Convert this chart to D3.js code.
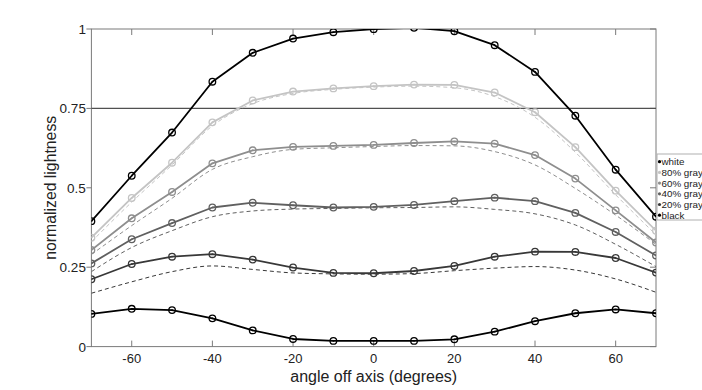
<!DOCTYPE html>
<html><head><meta charset="utf-8">
<script src="https://cdn.jsdelivr.net/npm/d3@7/dist/d3.min.js"></script>
<style>html,body{margin:0;padding:0;background:#fff;} svg{display:block;font-family:"Liberation Sans",Arial,sans-serif;}</style>
</head><body><svg id="c" width="702" height="390"></svg>
<script>
const angles = [-70,-60,-50,-40,-30,-20,-10,0,10,20,30,40,50,60,70];
const seriesNames = ["white","80% gray","60% gray","40% gray","20% gray","black"];
const white  = [0.395,0.538,0.674,0.834,0.925,0.970,0.990,0.9995,1.004,0.993,0.949,0.865,0.727,0.557,0.409];
const gray80 = [0.343,0.468,0.579,0.706,0.775,0.803,0.813,0.820,0.825,0.824,0.800,0.738,0.628,0.491,0.365];
const gray60 = [0.304,0.404,0.487,0.577,0.618,0.629,0.632,0.635,0.641,0.646,0.639,0.603,0.529,0.429,0.328];
const gray40 = [0.262,0.338,0.389,0.438,0.453,0.445,0.438,0.440,0.446,0.458,0.469,0.458,0.421,0.361,0.287];
const gray20 = [0.212,0.260,0.283,0.291,0.274,0.249,0.232,0.231,0.238,0.254,0.283,0.299,0.298,0.279,0.233];
const black  = [0.103,0.119,0.115,0.089,0.051,0.024,0.018,0.018,0.018,0.023,0.047,0.080,0.105,0.117,0.105];
const dash80 = [0.330,0.455,0.572,0.695,0.765,0.797,0.810,0.817,0.820,0.815,0.787,0.722,0.612,0.478,0.352];
const dash60 = [0.290,0.381,0.467,0.558,0.598,0.621,0.626,0.630,0.633,0.632,0.614,0.572,0.498,0.414,0.322];
const dash40 = [0.236,0.312,0.365,0.409,0.427,0.433,0.435,0.437,0.438,0.440,0.432,0.418,0.383,0.322,0.252];
const dash20 = [0.168,0.204,0.236,0.254,0.243,0.232,0.229,0.228,0.230,0.239,0.247,0.252,0.241,0.213,0.171];
const xTicks = [-60,-40,-20,0,20,40,60];
const yTicks = [0,0.25,0.5,0.75,1];
const yTickLabels = ["0","0.25","0.5","0.75","1"];
const refLine = 0.75;

const svg = d3.select("#c");
const L=91.4, R=656, T=29, B=346.6;
const x = d3.scaleLinear().domain([-70,70]).range([L,R]);
const y = d3.scaleLinear().domain([0,1]).range([B,T]);

svg.append("defs").append("clipPath").attr("id","clip")
  .append("rect").attr("x",L).attr("y",T).attr("width",R-L).attr("height",B-T);

const solid = [
  {name:"white", v:white, c:"#000000", w:1.8},
  {name:"80% gray", v:gray80, c:"#c4c4c4", w:1.8},
  {name:"60% gray", v:gray60, c:"#8e8e8e", w:1.8},
  {name:"40% gray", v:gray40, c:"#606060", w:1.8},
  {name:"20% gray", v:gray20, c:"#383838", w:1.8},
  {name:"black", v:black, c:"#000000", w:1.8}
];
const dashed = [
  {v:dash80, c:"#c4c4c4"},
  {v:dash60, c:"#8e8e8e"},
  {v:dash40, c:"#606060"},
  {v:dash20, c:"#383838"}
];

svg.append("rect").attr("x",L).attr("y",T).attr("width",R-L).attr("height",B-T)
  .attr("fill","none").attr("stroke","#7a7a7a").attr("stroke-width",1);

const ax = svg.append("g");
xTicks.forEach(t=>{
  ax.append("line").attr("x1",x(t)).attr("x2",x(t)).attr("y1",B).attr("y2",B-6).attr("stroke","#7a7a7a");
  ax.append("line").attr("x1",x(t)).attr("x2",x(t)).attr("y1",T).attr("y2",T+6).attr("stroke","#7a7a7a");
  ax.append("text").attr("x",x(t)).attr("y",B+16).attr("text-anchor","middle")
    .attr("font-size",13).attr("fill","#222").text(t);
});
yTicks.forEach((t,i)=>{
  ax.append("line").attr("x1",L).attr("x2",L-5).attr("y1",y(t)).attr("y2",y(t)).attr("stroke","#7a7a7a");
  ax.append("line").attr("x1",R).attr("x2",R-6).attr("y1",y(t)).attr("y2",y(t)).attr("stroke","#7a7a7a");
  ax.append("text").attr("x",L-5.5).attr("y",y(t)+5).attr("text-anchor","end")
    .attr("font-size",13.5).attr("fill","#222").text(yTickLabels[i]);
});

svg.append("text").attr("x",(L+R)/2).attr("y",381.5).attr("text-anchor","middle")
  .attr("font-size",16).attr("fill","#222").text("angle off axis (degrees)");
svg.append("text").attr("transform",`translate(56,${(T+B)/2}) rotate(-90)`).attr("text-anchor","middle")
  .attr("font-size",15.8).attr("fill","#222").text("normalized lightness");

svg.append("line").attr("x1",L).attr("x2",R).attr("y1",y(refLine)).attr("y2",y(refLine))
  .attr("stroke","#505050").attr("stroke-width",1.4);

const g = svg.append("g").attr("clip-path","url(#clip)");
const lineStraight = d3.line().x((d,i)=>x(angles[i])).y(d=>y(d));
const lineSmooth = d3.line().x((d,i)=>x(angles[i])).y(d=>y(d)).curve(d3.curveMonotoneX);

dashed.forEach(s=>{
  g.append("path").attr("d",lineSmooth(s.v)).attr("fill","none").attr("stroke",s.c)
    .attr("stroke-width",1).attr("stroke-dasharray","4,3");
});
solid.slice().reverse().forEach(s=>{
  g.append("path").attr("d",lineStraight(s.v)).attr("fill","none").attr("stroke",s.c)
    .attr("stroke-width",s.w).attr("stroke-linejoin","round");
  const mg = g.append("g");
  s.v.forEach((v,i)=>{
    mg.append("circle").attr("cx",x(angles[i])).attr("cy",y(v)).attr("r",3.3)
      .attr("fill","none").attr("stroke",s.c).attr("stroke-width",1.3);
    mg.append("circle").attr("cx",x(angles[i])).attr("cy",y(v)).attr("r",0.8).attr("fill",s.c);
  });
});

const lg = svg.append("g");
lg.append("rect").attr("x",657).attr("y",154).attr("width",60).attr("height",66)
  .attr("fill","#fff").attr("stroke","#b0b0b0").attr("stroke-width",1);
solid.forEach((s,i)=>{
  const yy = 161.7 + i*10.7;
  lg.append("circle").attr("cx",659.5).attr("cy",yy).attr("r",1.6).attr("fill",s.c);
  lg.append("text").attr("x",661.5).attr("y",yy+3.4).attr("font-size",9.8).attr("fill","#222").text(s.name);
});
</script></body></html>
